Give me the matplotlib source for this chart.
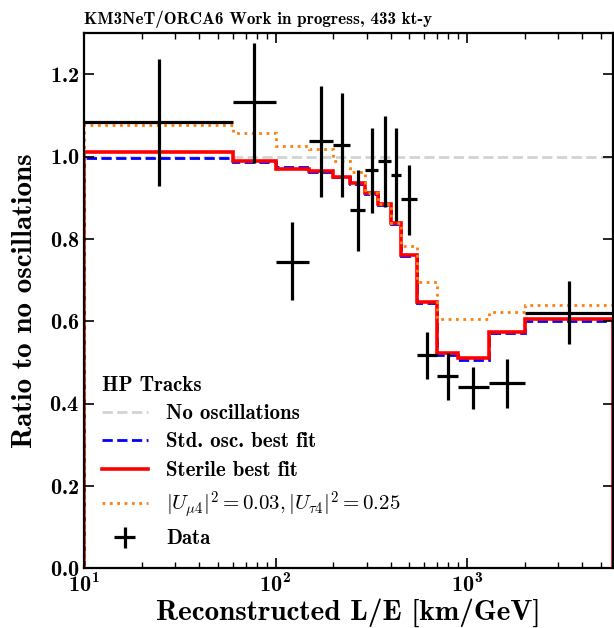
import numpy as np
import matplotlib.pyplot as plt

plt.rcParams['font.family'] = ['cmb10', 'DejaVu Serif']
plt.rcParams['mathtext.fontset'] = 'cm'
plt.rcParams['axes.formatter.use_mathtext'] = True
plt.rcParams['axes.unicode_minus'] = False

# bin edges in reconstructed L/E [km/GeV]
edges = [10, 60, 100, 150, 200, 245, 295, 345, 400, 450, 550, 700, 900, 1300, 2000, 5800]

no_osc = [1.0] * 15
std_osc = [0.998, 0.987, 0.974, 0.962, 0.950, 0.933, 0.909, 0.883, 0.837, 0.759, 0.645, 0.519, 0.507, 0.572, 0.602]
sterile = [1.011, 0.990, 0.970, 0.965, 0.952, 0.936, 0.912, 0.886, 0.840, 0.762, 0.648, 0.522, 0.512, 0.575, 0.605]
alt = [1.078, 1.058, 1.027, 1.018, 0.990, 0.963, 0.912, 0.886, 0.840, 0.782, 0.695, 0.607, 0.607, 0.624, 0.640]

data = [1.085, 1.132, 0.745, 1.039, 1.029, 0.870, 0.967, 0.989, 0.956, 0.897, 0.519, 0.467, 0.440, 0.451, 0.621]
err_up = [0.153, 0.145, 0.096, 0.132, 0.126, 0.097, 0.103, 0.109, 0.114, 0.084, 0.056, 0.055, 0.048, 0.058, 0.076]
err_dn = [0.156, 0.146, 0.093, 0.136, 0.127, 0.098, 0.104, 0.110, 0.111, 0.087, 0.058, 0.058, 0.052, 0.062, 0.076]

edges = np.array(edges, dtype=float)
centers = np.sqrt(edges[:-1] * edges[1:])
xerr = [centers - edges[:-1], edges[1:] - centers]

fig, ax = plt.subplots(figsize=(6.14, 6.28), dpi=100)
fig.subplots_adjust(left=0.137, right=0.9985, top=0.947, bottom=0.095)

ax.stairs(no_osc, edges, baseline=0, color='lightgrey', ls='--', lw=2, label='No oscillations')
ax.stairs(std_osc, edges, baseline=0, color='blue', ls='--', lw=2, label='Std. osc. best fit')
ax.stairs(sterile, edges, baseline=0, color='red', lw=2.6, label='Sterile best fit')
ax.stairs(alt, edges, baseline=0, color='tab:orange', ls=':', lw=2,
          label=r'$|U_{\mu 4}|^2 = \mathbf{0.03}, |U_{\tau 4}|^2 = \mathbf{0.25}$')
ax.errorbar(centers, data, yerr=[err_dn, err_up], xerr=xerr, fmt='none',
            ecolor='black', elinewidth=2.3, capsize=0, label='Data', zorder=5)

ax.set_xscale('log')
ax.set_xlim(10, 5800)
ax.set_ylim(0, 1.3)
ax.set_yticks(np.arange(0, 1.21, 0.2))
ax.tick_params(which='both', direction='in', top=True, right=True, labelsize=16)
ax.tick_params(which='major', length=7, width=1.2)
ax.tick_params(which='minor', length=4, width=1)
for s in ax.spines.values():
    s.set_linewidth(1.6)

ax.set_xlabel('Reconstructed L/E [km/GeV]', fontsize=21, labelpad=1)
ax.set_ylabel('Ratio to no oscillations', fontsize=21, labelpad=8)
ax.set_title('KM3NeT/ORCA6 Work in progress, 433 kt-y', fontsize=12.3, loc='left', pad=7)

leg = ax.legend(loc='lower left', title='HP Tracks', frameon=False, fontsize=15,
                title_fontsize=15, alignment='left', handlelength=2.2,
                handletextpad=0.9, labelspacing=0.45, borderaxespad=0.45,
                bbox_to_anchor=(0, 0.004))

fig.savefig('out.png')
